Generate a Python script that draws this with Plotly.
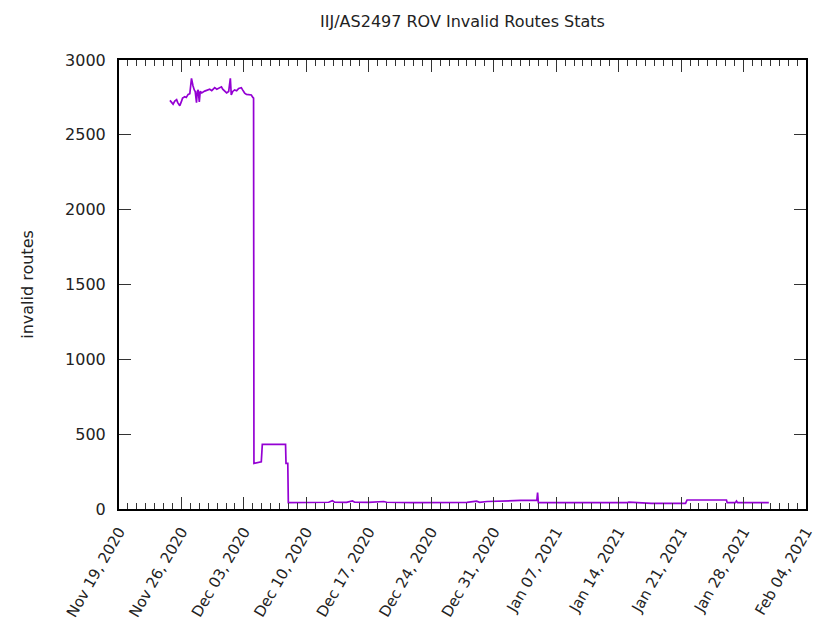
import plotly.graph_objects as go

title_text = "IIJ/AS2497 ROV Invalid Routes Stats"
y_label = "invalid routes"

dates = [
    "2020-11-24 17:00", "2020-11-24 21:00", "2020-11-25 01:30", "2020-11-25 06:00",
    "2020-11-25 11:00", "2020-11-25 14:00", "2020-11-25 19:30", "2020-11-25 23:30",
    "2020-11-26 03:00", "2020-11-26 09:00", "2020-11-26 13:00", "2020-11-26 18:00",
    "2020-11-26 22:30", "2020-11-27 03:00", "2020-11-27 05:00", "2020-11-27 07:00",
    "2020-11-27 10:30", "2020-11-27 13:00", "2020-11-27 16:30", "2020-11-27 18:30",
    "2020-11-27 21:00", "2020-11-28 00:00", "2020-11-28 02:30", "2020-11-28 06:30",
    "2020-11-28 14:30", "2020-11-28 22:30", "2020-11-29 04:00", "2020-11-29 09:30",
    "2020-11-29 17:30", "2020-11-29 23:00", "2020-11-30 04:00", "2020-11-30 11:30",
    "2020-11-30 15:00", "2020-11-30 20:30", "2020-12-01 01:30", "2020-12-01 07:00",
    "2020-12-01 11:30", "2020-12-01 14:00", "2020-12-01 18:00", "2020-12-01 23:00",
    "2020-12-02 04:30", "2020-12-02 10:00", "2020-12-02 17:00", "2020-12-02 20:30",
    "2020-12-03 02:00", "2020-12-03 07:00", "2020-12-03 12:30", "2020-12-03 20:00",
    "2020-12-04 00:00", "2020-12-04 02:00", "2020-12-04 03:00", "2020-12-04 22:45",
    "2020-12-05 01:30", "2020-12-07 16:00", "2020-12-07 17:15", "2020-12-07 22:00",
    "2020-12-07 23:30",
    "2020-12-09 12:00", "2020-12-11 00:00", "2020-12-12 12:00", "2020-12-12 22:00",
    "2020-12-13 04:00", "2020-12-14 12:00", "2020-12-15 04:00", "2020-12-15 10:00",
    "2020-12-17 00:00", "2020-12-18 16:00", "2020-12-19 00:00", "2020-12-22 00:00",
    "2020-12-25 00:00", "2020-12-28 00:00", "2020-12-29 02:00", "2020-12-29 10:00",
    "2020-12-30 06:00", "2021-01-01 00:00", "2021-01-03 00:00", "2021-01-04 20:00",
    "2021-01-04 22:00", "2021-01-05 00:00", "2021-01-07 00:00", "2021-01-09 00:00",
    "2021-01-11 10:00", "2021-01-13 00:00", "2021-01-15 00:00", "2021-01-15 03:00",
    "2021-01-16 00:00", "2021-01-17 16:00", "2021-01-21 12:00", "2021-01-21 16:00",
    "2021-01-26 02:00", "2021-01-26 04:00", "2021-01-27 02:00", "2021-01-27 05:00",
    "2021-01-27 08:00", "2021-01-30 20:00",
]

invalid_routes = [
    2730, 2715, 2705, 2725,
    2735, 2715, 2695, 2720,
    2745, 2755, 2750, 2770,
    2775, 2877, 2840, 2828,
    2800, 2790, 2715, 2790,
    2800, 2720, 2790, 2780,
    2792, 2800, 2805, 2795,
    2815, 2805, 2810, 2821,
    2805, 2788, 2780, 2790,
    2877, 2766, 2790, 2800,
    2795, 2810, 2815, 2800,
    2779, 2770, 2770, 2766,
    2750, 2745, 305, 316,
    432, 432, 305, 305,
    42,
    43, 42, 45, 55,
    45, 44, 54, 45,
    44, 50, 45, 43,
    42, 44, 52, 45,
    50, 55, 57, 58,
    110, 42, 42, 43,
    38, 38, 42, 46,
    42, 38, 38, 60,
    60, 42, 42, 53,
    42, 42,
]

x_range = ["2020-11-19", "2021-02-04"]
x_tickvals = [
    "2020-11-19", "2020-11-26", "2020-12-03", "2020-12-10", "2020-12-17",
    "2020-12-24", "2020-12-31", "2021-01-07", "2021-01-14", "2021-01-21",
    "2021-01-28", "2021-02-04",
]
x_ticklabels = [
    "Nov 19, 2020", "Nov 26, 2020", "Dec 03, 2020", "Dec 10, 2020", "Dec 17, 2020",
    "Dec 24, 2020", "Dec 31, 2020", "Jan 07, 2021", "Jan 14, 2021", "Jan 21, 2021",
    "Jan 28, 2021", "Feb 04, 2021",
]
y_tickvals = [0, 500, 1000, 1500, 2000, 2500, 3000]

FONT = "DejaVu Sans"
TXT = "#222222"
DAY = 86400000

fig = go.Figure()
fig.add_trace(go.Scatter(
    x=dates, y=invalid_routes, mode="lines",
    line=dict(color="#9400D3", width=1.7),
    showlegend=False,
))

fig.update_layout(
    width=815, height=624,
    margin=dict(l=119, r=9, t=60, b=115),
    paper_bgcolor="white", plot_bgcolor="white",
    font=dict(family=FONT, size=16, color=TXT),
    title=dict(text=title_text, x=0.5, xref="paper", y=1 - 21 / 624, yref="container",
               xanchor="center", yanchor="middle",
               font=dict(family=FONT, size=16, color=TXT)),
)

fig.update_xaxes(
    type="date", range=x_range, automargin=False,
    tickmode="array", tickvals=x_tickvals, ticktext=x_ticklabels,
    tickangle=-60, ticks="inside", ticklen=12, tickwidth=1, tickcolor="#333333",
    ticklabelstandoff=6, ticklabeloverflow="allow",
    minor=dict(dtick=DAY, tick0="2020-11-19", ticks="inside", ticklen=6,
               tickwidth=1, tickcolor="#333333", showgrid=False),
    showline=True, linecolor="black", linewidth=2, mirror="ticks",
    showgrid=False, zeroline=False,
    tickfont=dict(family=FONT, size=15, color=TXT),
)
fig.update_yaxes(
    range=[0, 3000], tickvals=y_tickvals, automargin=False,
    ticks="inside", ticklen=12, tickwidth=1, tickcolor="#333333",
    showline=True, linecolor="black", linewidth=2, mirror="ticks",
    showgrid=False, zeroline=False,
    ticklabelstandoff=8,
    title=dict(text=y_label, standoff=27, font=dict(family=FONT, size=16, color=TXT)),
    tickfont=dict(family=FONT, size=16, color=TXT),
)

fig.write_html("out.html", config={"displayModeBar": False},
               post_script="document.body.style.margin='0';")
